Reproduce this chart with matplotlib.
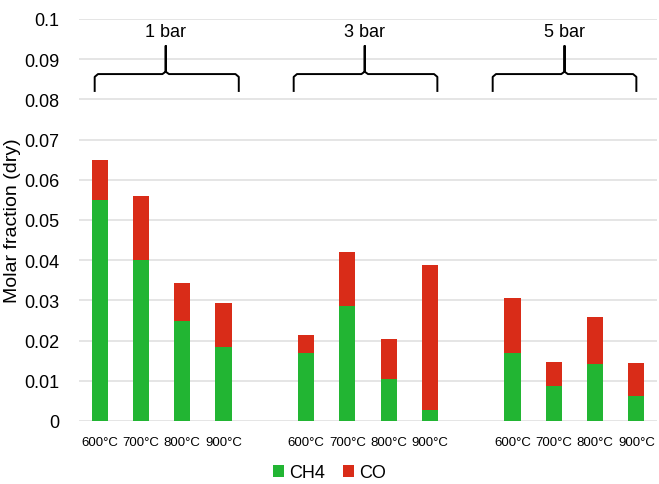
import matplotlib
matplotlib.use('Agg')
import matplotlib.pyplot as plt
import numpy as np

plt.rcParams['font.family'] = ['Liberation Sans', 'DejaVu Sans']

groups = ['1 bar', '3 bar', '5 bar']
temps = ['600°C', '700°C', '800°C', '900°C']
ch4 = [[0.055, 0.040, 0.0249, 0.0185],
       [0.0168, 0.0287, 0.0105, 0.0027],
       [0.0170, 0.0088, 0.0143, 0.0063]]
total = [[0.065, 0.056, 0.0344, 0.0294],
         [0.0215, 0.042, 0.0205, 0.0387],
         [0.0307, 0.0147, 0.0258, 0.0144]]

green = '#22b533'
red = '#d92c18'

fig = plt.figure(figsize=(6.59, 4.85), dpi=100)
ax = fig.add_axes([79 / 659, 63 / 485, 578 / 659, 402 / 485])

pos = []
labels = []
ch4_all = []
co_all = []
for g in range(3):
    for t in range(4):
        pos.append(g * 5 + t)
        labels.append(temps[t])
        ch4_all.append(ch4[g][t])
        co_all.append(total[g][t] - ch4[g][t])

ax.bar(pos, ch4_all, width=0.39, color=green, label='CH4', zorder=3)
ax.bar(pos, co_all, width=0.39, bottom=ch4_all, color=red, label='CO', zorder=3)

ax.set_xlim(-0.5, 13.5)
ax.set_ylim(0, 0.1)
ax.set_yticks(np.arange(0, 0.101, 0.01))
ax.set_yticklabels(['0'] + ['%g' % v for v in np.arange(0.01, 0.101, 0.01).round(2)])
ax.set_xticks(pos)
ax.set_xticklabels(labels, fontsize=9.5)
ax.tick_params(axis='y', labelsize=13, length=0, pad=14)
ax.tick_params(axis='x', length=0, pad=11)
ax.grid(axis='y', color='#e0e0e0', linewidth=1.2, zorder=0)
for s in ax.spines.values():
    s.set_visible(False)
ax.set_ylabel('Molar fraction (dry)', fontsize=14)
ax.yaxis.set_label_coords(-0.1, 0.5)

# braces over each pressure group
spans = [(-0.12, 3.37, 1.6), (4.70, 8.18, 6.42), (9.52, 13.0, 11.26)]
yb, yh, yt = 0.0821, 0.0863, 0.0933
for (x0, x1, xm), name in zip(spans, groups):
    r = 0.08
    xs = [x0, x0, x0 + r, xm - r, xm, xm, xm, xm + r, x1 - r, x1, x1]
    ys = [yb, yh - 0.0007, yh, yh, yh + 0.0006, yt, yh + 0.0006, yh, yh, yh - 0.0007, yb]
    ax.plot(xs, ys, color='black', linewidth=1.4, solid_joinstyle='round', zorder=4)
    ax.text(xm, 0.097, name, ha='center', va='center', fontsize=13)

fig.legend(loc='center', bbox_to_anchor=(0.5, 1 - 474 / 485), ncol=2, frameon=False,
           fontsize=13, handlelength=0.6, handleheight=0.6, handletextpad=0.3,
           columnspacing=1.0, borderpad=0.1)

fig.savefig('out.png', dpi=100)
